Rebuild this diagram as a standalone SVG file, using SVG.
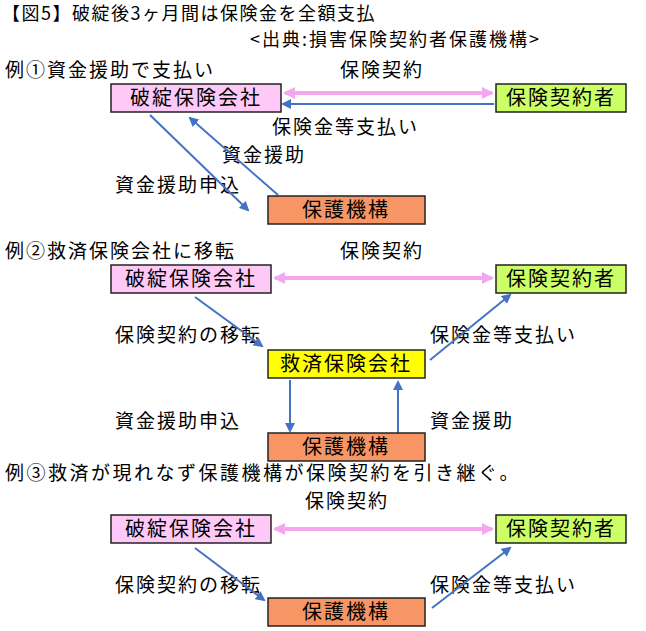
<svg xmlns="http://www.w3.org/2000/svg" width="646" height="631" viewBox="0 0 646 631">
<style>
text{font-family:"Noto Sans CJK JP","Noto Sans CJK SC",sans-serif;font-size:19px;letter-spacing:2px;fill:#000}
.b rect{stroke:#222;stroke-width:1.5}
.b text{text-anchor:middle;font-size:20px;letter-spacing:2px}
.pk{fill:#ffc9f7}.gr{fill:#ccff66}.or{fill:#f79664}.ye{fill:#ffff00}
.bl{stroke:#4472c4;stroke-width:2;fill:none;marker-end:url(#ab)}
.pa{stroke:#f4a6ef;stroke-width:4;fill:none;marker-end:url(#ap);marker-start:url(#aps)}
</style>
<defs>
<marker id="ab" markerWidth="10" markerHeight="10" refX="8" refY="5" orient="auto" markerUnits="userSpaceOnUse"><path d="M0,0L10,5L0,10z" fill="#4472c4"/></marker>
<marker id="ap" markerWidth="12" markerHeight="12" refX="10" refY="6" orient="auto" markerUnits="userSpaceOnUse"><path d="M0,0L12,6L0,12z" fill="#f4a6ef"/></marker>
<marker id="aps" markerWidth="12" markerHeight="12" refX="2" refY="6" orient="auto" markerUnits="userSpaceOnUse"><path d="M12,0L0,6L12,12z" fill="#f4a6ef"/></marker>
</defs>
<text x="2" y="20" style="font-size:18px;letter-spacing:1.5px">【図5】破綻後3ヶ月間は保険金を全額支払</text>
<text x="250" y="46" style="font-size:18px;letter-spacing:2px">&lt;出典:損害保険契約者保護機構&gt;</text>
<text x="5" y="77">例①資金援助で支払い</text>
<text x="340" y="77">保険契約</text>
<text x="272" y="134">保険金等支払い</text>
<text x="222" y="162">資金援助</text>
<text x="115" y="192">資金援助申込</text>
<text x="5" y="258">例②救済保険会社に移転</text>
<text x="340" y="258">保険契約</text>
<text x="115" y="342">保険契約の移転</text>
<text x="430" y="342">保険金等支払い</text>
<text x="115" y="428">資金援助申込</text>
<text x="430" y="428">資金援助</text>
<text x="5" y="480" style="letter-spacing:2.5px">例③救済が現れなず保護機構が保険契約を引き継ぐ。</text>
<text x="305" y="508">保険契約</text>
<text x="115" y="592">保険契約の移転</text>
<text x="430" y="592">保険金等支払い</text>
<g id="connectors">
<path class="pa" d="M285,93H492"/>
<path class="bl" d="M494,104H283"/>
<path class="bl" d="M150,115L248,210"/>
<path class="bl" d="M278,195L190,118"/>
<path class="pa" d="M275,278H492"/>
<path class="bl" d="M195,297L262,346"/>
<path class="bl" d="M430,360L510,295"/>
<path class="bl" d="M290,380V431"/>
<path class="bl" d="M398,433V382"/>
<path class="pa" d="M275,529H492"/>
<path class="bl" d="M195,548L264,600"/>
<path class="bl" d="M432,608L510,548"/>
</g>
<g id="n1" class="b"><rect class="pk" x="111" y="84" width="170" height="28"/><text x="196" y="105">破綻保険会社</text></g>
<g id="n2" class="b"><rect class="gr" x="496" y="84" width="130" height="28"/><text x="561" y="105">保険契約者</text></g>
<g id="n3" class="b"><rect class="or" x="268" y="196" width="157" height="28"/><text x="346" y="217">保護機構</text></g>
<g id="n4" class="b"><rect class="pk" x="111" y="265" width="160" height="28"/><text x="191" y="286">破綻保険会社</text></g>
<g id="n5" class="b"><rect class="gr" x="496" y="265" width="130" height="28"/><text x="561" y="286">保険契約者</text></g>
<g id="n6" class="b"><rect class="ye" x="268" y="350" width="157" height="28"/><text x="346" y="371">救済保険会社</text></g>
<g id="n7" class="b"><rect class="or" x="268" y="433" width="157" height="28"/><text x="346" y="454">保護機構</text></g>
<g id="n8" class="b"><rect class="pk" x="111" y="515" width="160" height="28"/><text x="191" y="536">破綻保険会社</text></g>
<g id="n9" class="b"><rect class="gr" x="496" y="515" width="130" height="28"/><text x="561" y="536">保険契約者</text></g>
<g id="n10" class="b"><rect class="or" x="268" y="598" width="157" height="28"/><text x="346" y="619">保護機構</text></g>
</svg>
